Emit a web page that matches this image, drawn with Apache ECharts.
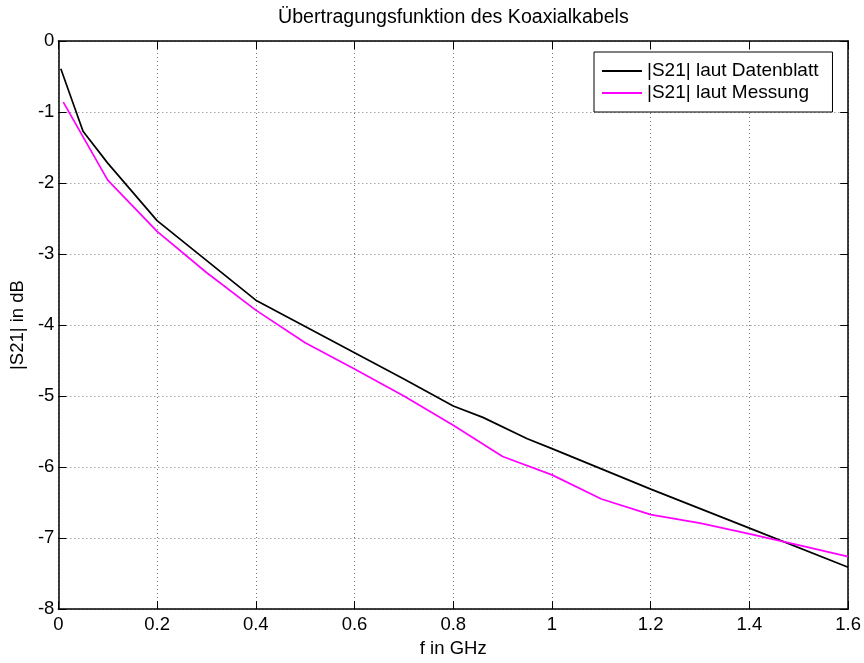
<!DOCTYPE html>
<html>
<head>
<meta charset="utf-8">
<script src="https://cdn.jsdelivr.net/npm/echarts@6/dist/echarts.min.js"></script>
<style>html,body{margin:0;padding:0;background:#fff}#c{width:864px;height:663px}</style>
</head>
<body>
<div id="c"></div>
<script>
const titleText = 'Übertragungsfunktion des Koaxialkabels';
const xName = 'f in GHz';
const yName = '|S21| in dB';
const nameDatenblatt = '|S21| laut Datenblatt';
const nameMessung = '|S21| laut Messung';

const datenblattF = [0.005, 0.05, 0.1, 0.2, 0.3, 0.4, 0.5, 0.6, 0.7, 0.8, 0.86, 0.95, 1.0, 1.2, 1.4, 1.6];
const datenblattS = [-0.39, -1.27, -1.72, -2.53, -3.09, -3.65, -4.02, -4.39, -4.76, -5.14, -5.3, -5.6, -5.74, -6.31, -6.86, -7.41];

const messungF = [0.01, 0.1, 0.2, 0.3, 0.4, 0.5, 0.6, 0.7, 0.8, 0.9, 1.0, 1.1, 1.2, 1.3, 1.4, 1.5, 1.6];
const messungS = [-0.86, -1.96, -2.68, -3.26, -3.79, -4.25, -4.62, -5.0, -5.41, -5.85, -6.11, -6.45, -6.67, -6.79, -6.94, -7.1, -7.26];

const font = 'Liberation Sans, Arial, Helvetica, sans-serif';
const zip = (a, b) => a.map((v, i) => [v, b[i]]);

const chart = echarts.init(document.getElementById('c'), null, {renderer: 'canvas'});
const gridLine = {show: true, lineStyle: {color: '#777', type: [1, 3], width: 1}};
chart.setOption({
  animation: false,
  backgroundColor: '#fff',
  title: {
    text: titleText, left: 278, top: 8, padding: 0,
    textStyle: {fontFamily: font, fontSize: 19.6, fontWeight: 'normal', color: '#000'}
  },
  legend: {
    left: 594, top: 52, orient: 'vertical',
    backgroundColor: '#fff', borderColor: '#000', borderWidth: 1,
    padding: [9, 14, 9, 8], itemGap: 2,
    itemWidth: 40, itemHeight: 2, icon: 'rect',
    textStyle: {fontFamily: font, fontSize: 19, color: '#000', lineHeight: 20},
    data: [nameDatenblatt, nameMessung]
  },
  grid: {left: 56, right: 15, top: 41, bottom: 44, containLabel: false},
  xAxis: [{
    type: 'value', min: 0, max: 1.6, interval: 0.2,
    name: xName, nameLocation: 'middle', nameGap: 29,
    nameTextStyle: {fontFamily: font, fontSize: 18.5, color: '#000'},
    axisLine: {show: true, onZero: false, lineStyle: {color: '#000', width: 1.5}},
    axisTick: {show: true, inside: true, length: 8, lineStyle: {color: '#000', width: 1}},
    axisLabel: {fontFamily: font, fontSize: 18.5, color: '#000', margin: 6,
      formatter: v => (Math.round(v * 10) / 10).toString()},
    splitLine: gridLine
  }, {
    type: 'value', position: 'top', min: 0, max: 1.6, interval: 0.2,
    axisLine: {show: true, onZero: false, lineStyle: {color: '#000', width: 1.5}},
    axisTick: {show: true, inside: true, length: 8, lineStyle: {color: '#000', width: 1}},
    axisLabel: {show: false}, splitLine: {show: false}
  }],
  yAxis: [{
    type: 'value', min: -8, max: 0, interval: 1,
    name: yName, nameLocation: 'middle', nameGap: 24, nameRotate: 90,
    nameTextStyle: {fontFamily: font, fontSize: 18.5, color: '#000'},
    axisLine: {show: true, onZero: false, lineStyle: {color: '#000', width: 1.5}},
    axisTick: {show: true, inside: true, length: 8, lineStyle: {color: '#000', width: 1}},
    axisLabel: {fontFamily: font, fontSize: 18.5, color: '#000', margin: 4},
    splitLine: gridLine
  }, {
    type: 'value', position: 'right', min: -8, max: 0, interval: 1,
    axisLine: {show: true, onZero: false, lineStyle: {color: '#000', width: 1.5}},
    axisTick: {show: true, inside: true, length: 8, lineStyle: {color: '#000', width: 1}},
    axisLabel: {show: false}, splitLine: {show: false}
  }],
  series: [{
    name: nameDatenblatt, type: 'line', data: zip(datenblattF, datenblattS),
    showSymbol: false, symbol: 'none', color: '#000',
    lineStyle: {color: '#000', width: 1.7}
  }, {
    name: nameMessung, type: 'line', data: zip(messungF, messungS),
    showSymbol: false, symbol: 'none', color: '#ff00ff',
    lineStyle: {color: '#ff00ff', width: 1.7}
  }]
});
</script>
</body>
</html>
